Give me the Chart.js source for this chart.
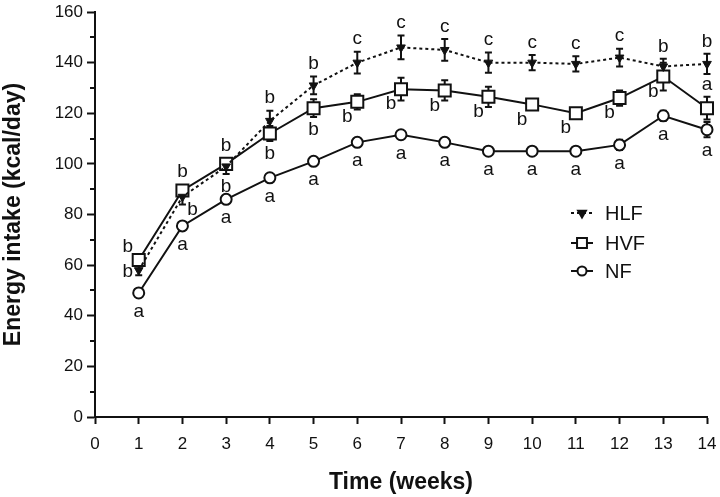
<!DOCTYPE html>
<html>
<head>
<meta charset="utf-8">
<script src="https://cdn.jsdelivr.net/npm/chart.js@4.4.1/dist/chart.umd.min.js"></script>
<style>
  html, body { margin: 0; padding: 0; background: #fff; }
  canvas { display: block; }
</style>
</head>
<body>
<canvas id="intakeChart" width="720" height="497"></canvas>
<script>
const weeks = [1, 2, 3, 4, 5, 6, 7, 8, 9, 10, 11, 12, 13, 14];
const yTicks = [0, 20, 40, 60, 80, 100, 120, 140, 160];

// mean energy intake (kcal/day)
const hlfMean = [58, 87, 99, 117, 131, 140, 146, 145, 140, 140, 139.5, 142, 138.5, 139.5];
const hvfMean = [62, 89.5, 100, 112, 122, 124.5, 129.5, 129, 126.5, 123.5, 120, 126, 134.5, 122];
const nfMean = [49, 75.5, 86, 94.5, 101, 108.5, 111.5, 108.5, 105, 105, 105, 107.5, 119, 113.5];

// error bars (SEM)
const hlfErr = [2, 3, 3, 4, 3.5, 4.3, 4.7, 4.3, 4, 3, 3, 3.5, 3, 4];
const hvfErr = [2, 2, 2, 3, 3.5, 3, 4.5, 4, 4, 2, 1.5, 3, 5.5, 4.5];
const nfErr = [1.5, 1.5, 1.5, 1.5, 1.5, 1.5, 1.5, 1.5, 1.5, 1.5, 1.5, 2, 2, 3];

// significance letters
const hlfLetters = ['b', 'b', 'b', 'b', 'b', 'c', 'c', 'c', 'c', 'c', 'c', 'c', 'b', 'b'];
const hvfLetters = ['b', 'b', 'b', 'b', 'b', 'b', 'b', 'b', 'b', 'b', 'b', 'b', 'b', 'a'];
const nfLetters = ['a', 'a', 'a', 'a', 'a', 'a', 'a', 'a', 'a', 'a', 'a', 'a', 'a', 'a'];

const ink = '#111111';
const fontFamily = 'Liberation Sans, Arial, sans-serif';
const tickFont = { family: fontFamily, size: 17 };

// where each letter sits relative to its point
const letterSpots = {
    HLF: ['l', 'dr', 'dn', 'up', 'up', 'up', 'up', 'up', 'up', 'up', 'up', 'up', 'up', 'up'],
    HVF: ['ul', 'up', 'up', 'dn', 'dn', 'dl', 'dl', 'dl', 'dl', 'dl', 'dl', 'dl', 'dl', 'up'],
    NF: ['dn', 'dn', 'dn', 'dn', 'dn', 'dn', 'dn', 'dn', 'dn', 'dn', 'dn', 'dn', 'dn', 'dn']
};

function toPoints(values) {
    return weeks.map((w, i) => ({ x: w, y: values[i] }));
}

// short ticks halfway between the labelled ones
const minorTicks = {
    id: 'minorTicks',
    afterDraw(chart) {
        const { ctx, scales: { y } } = chart;
        ctx.save();
        ctx.strokeStyle = ink;
        ctx.lineWidth = 2;
        ctx.beginPath();
        for (let i = 0; i < yTicks.length - 1; i++) {
            const py = Math.round(y.getPixelForValue((yTicks[i] + yTicks[i + 1]) / 2));
            ctx.moveTo(y.right - 5, py);
            ctx.lineTo(y.right, py);
        }
        ctx.stroke();
        ctx.restore();
    }
};

const errorBars = {
    id: 'errorBars',
    beforeDatasetsDraw(chart) {
        const { ctx, scales: { x, y } } = chart;
        ctx.save();
        ctx.strokeStyle = ink;
        ctx.lineWidth = 2;
        chart.data.datasets.forEach(ds => {
            ds.errors.forEach((e, i) => {
                const px = x.getPixelForValue(weeks[i]);
                const top = y.getPixelForValue(ds.data[i].y + e);
                const bot = y.getPixelForValue(ds.data[i].y - e);
                ctx.beginPath();
                ctx.moveTo(px, top); ctx.lineTo(px, bot);
                ctx.moveTo(px - 3.5, top); ctx.lineTo(px + 3.5, top);
                ctx.moveTo(px - 3.5, bot); ctx.lineTo(px + 3.5, bot);
                ctx.stroke();
            });
        });
        ctx.restore();
    }
};

const letterMarks = {
    id: 'letterMarks',
    afterDatasetsDraw(chart) {
        const { ctx, scales: { x, y } } = chart;
        ctx.save();
        ctx.fillStyle = ink;
        ctx.font = '19px ' + fontFamily;
        ctx.textAlign = 'center';
        ctx.textBaseline = 'middle';
        chart.data.datasets.forEach(ds => {
            const spots = letterSpots[ds.label];
            ds.letters.forEach((txt, i) => {
                const px = x.getPixelForValue(weeks[i]);
                const py = y.getPixelForValue(ds.data[i].y);
                const errPx = ds.errors[i] * (y.bottom - y.top) / (y.max - y.min);
                const reach = Math.max(errPx, ds.markHalf);
                let dx = 0, dy = 0;
                switch (spots[i]) {
                    case 'up': dy = -(reach + 12.5); break;
                    case 'dn': dy = reach + 13; break;
                    case 'ul': dx = -11; dy = -13; break;
                    case 'l': dx = -11; dy = 2; break;
                    case 'dr': dx = 10; dy = 13; break;
                    case 'dl': dx = -10; dy = 15; break;
                }
                ctx.fillText(txt, px + dx, py + dy);
            });
        });
        ctx.restore();
    }
};

const sideLegend = {
    id: 'sideLegend',
    afterDraw(chart) {
        const { ctx } = chart;
        const rows = [213, 243, 271];
        const sizes = [4.5, 7, 4.5];
        ctx.save();
        chart.data.datasets.forEach((ds, i) => {
            const cy = rows[i];
            ctx.strokeStyle = ink;
            ctx.lineWidth = 2;
            ctx.setLineDash(ds.borderDash || []);
            ctx.beginPath();
            ctx.moveTo(571, cy); ctx.lineTo(593, cy);
            ctx.stroke();
            ctx.setLineDash([]);
            ctx.fillStyle = ds.pointBackgroundColor;
            ctx.strokeStyle = ink;
            ctx.lineWidth = 2;
            Chart.helpers.drawPoint(ctx, {
                pointStyle: ds.pointStyle,
                rotation: ds.pointRotation || 0,
                radius: sizes[i],
                borderWidth: 2
            }, 582, cy);
            ctx.fillStyle = ink;
            ctx.font = '20px ' + fontFamily;
            ctx.textAlign = 'left';
            ctx.textBaseline = 'middle';
            ctx.fillText(ds.label, 605, cy + 1);
        });
        ctx.restore();
    }
};

new Chart(document.getElementById('intakeChart'), {
    type: 'line',
    data: {
        datasets: [{
            label: 'HLF',
            data: toPoints(hlfMean),
            errors: hlfErr,
            letters: hlfLetters,
            markHalf: 5,
            borderColor: ink,
            borderWidth: 2,
            borderDash: [3, 3],
            pointStyle: 'triangle',
            pointRotation: 180,
            pointRadius: 5,
            pointBackgroundColor: ink,
            pointBorderColor: ink,
            pointBorderWidth: 1,
            tension: 0,
            clip: false
        }, {
            label: 'HVF',
            data: toPoints(hvfMean),
            errors: hvfErr,
            letters: hvfLetters,
            markHalf: 6,
            borderColor: ink,
            borderWidth: 2,
            pointStyle: 'rect',
            pointRadius: 8.5,
            pointBackgroundColor: '#ffffff',
            pointBorderColor: ink,
            pointBorderWidth: 2,
            tension: 0,
            clip: false
        }, {
            label: 'NF',
            data: toPoints(nfMean),
            errors: nfErr,
            letters: nfLetters,
            markHalf: 5.5,
            borderColor: ink,
            borderWidth: 2,
            pointStyle: 'circle',
            pointRadius: 5.5,
            pointBackgroundColor: '#ffffff',
            pointBorderColor: ink,
            pointBorderWidth: 2,
            tension: 0,
            clip: false
        }]
    },
    options: {
        responsive: false,
        animation: false,
        devicePixelRatio: 1,
        layout: { padding: { top: 12, right: 13, bottom: 0, left: 0 } },
        plugins: {
            legend: { display: false },
            tooltip: { enabled: false }
        },
        scales: {
            x: {
                type: 'linear',
                min: 0,
                max: 14,
                ticks: { stepSize: 1, color: ink, font: tickFont, padding: 10, maxRotation: 0 },
                grid: { drawOnChartArea: false, tickLength: 7, tickWidth: 2, tickColor: ink },
                border: { color: ink, width: 2 },
                title: {
                    display: true,
                    text: 'Time (weeks)',
                    color: ink,
                    font: { family: fontFamily, size: 23, weight: 'bold' },
                    padding: { top: 0, bottom: 1 }
                },
                afterFit(scale) {
                    scale.height = 80;
                    scale.paddingLeft = 0;
                    scale.paddingRight = 0;
                }
            },
            y: {
                min: 0,
                max: 160,
                ticks: {
                    stepSize: 20,
                    color: ink,
                    font: tickFont,
                    padding: 4
                },
                grid: { drawOnChartArea: false, tickLength: 8, tickWidth: 2, tickColor: ink },
                border: { color: ink, width: 2 },
                title: {
                    display: true,
                    text: 'Energy intake (kcal/day)',
                    color: ink,
                    font: { family: fontFamily, size: 23, weight: 'bold' },
                    padding: { top: 0, bottom: 0 }
                },
                afterFit(scale) {
                    scale.width = 95;
                    scale.paddingTop = 0;
                    scale.paddingBottom = 0;
                }
            }
        }
    },
    plugins: [minorTicks, errorBars, letterMarks, sideLegend]
});
</script>
</body>
</html>
